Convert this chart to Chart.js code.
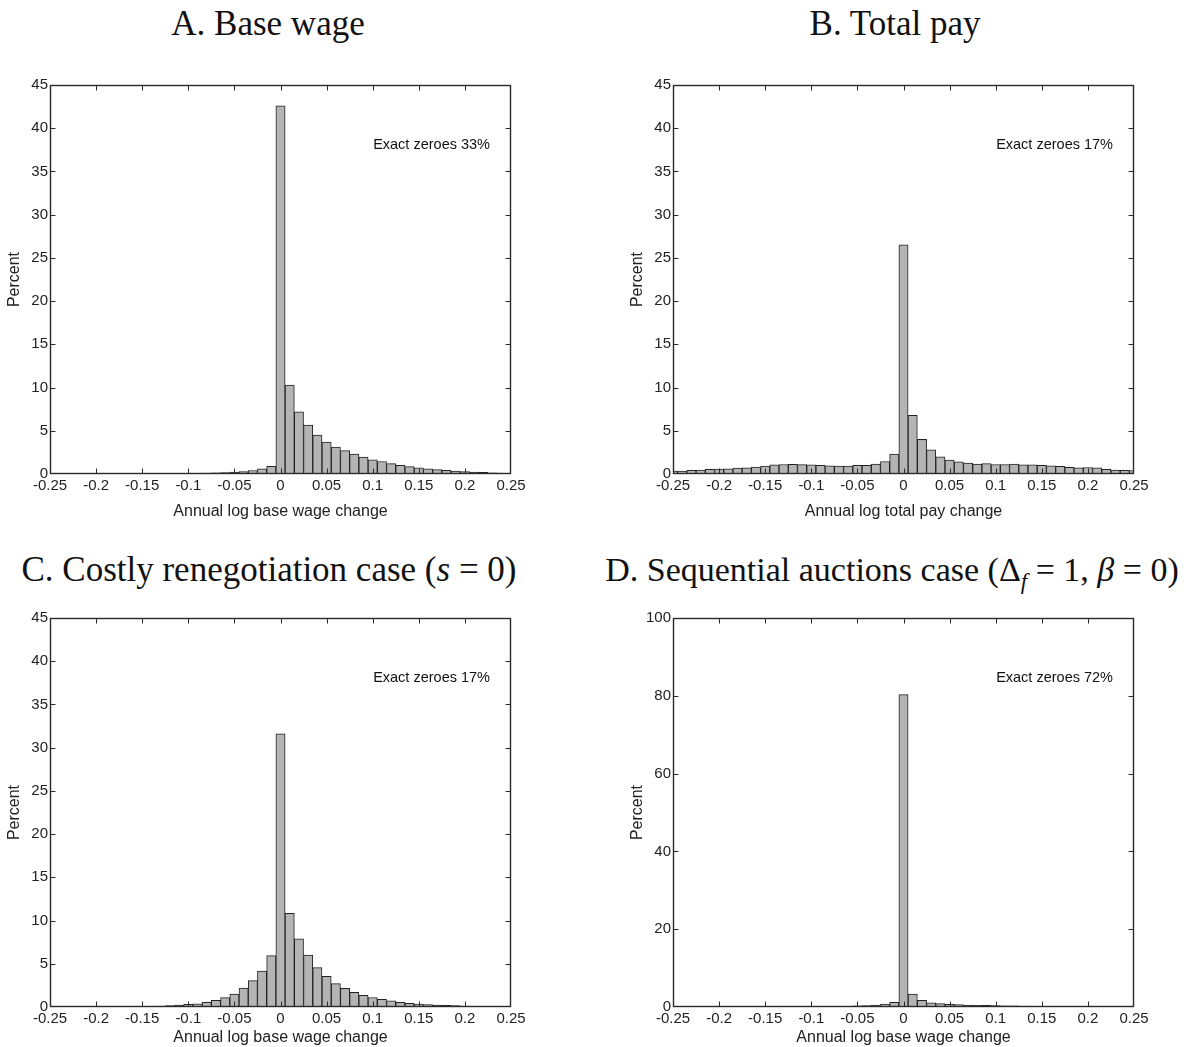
<!DOCTYPE html>
<html>
<head>
<meta charset="utf-8">
<script src="https://cdn.jsdelivr.net/npm/chart.js@4"></script>
<style>
  body { margin: 0; background: #fff; width: 1189px; height: 1047px; overflow: hidden; position: relative; }
  canvas { position: absolute; }
  .ttl { position: absolute; width: 640px; text-align: center; white-space: nowrap;
         font-family: "Liberation Serif", "DejaVu Serif", serif; font-size: 35px; line-height: 40px; color: #111; }
</style>
</head>
<body>
<div class="ttl" style="left:-52px; top:4px;">A. Base wage</div>
<div class="ttl" style="left:575px; top:4px;">B. Total pay</div>
<div class="ttl" style="left:-51px; top:550px;">C. Costly renegotiation case (<i>s</i> = 0)</div>
<div class="ttl" style="left:572px; top:550px; font-size:34px;">D. Sequential auctions case (Δ<sub style="font-size:23px;"><i>f</i></sub> = 1, <i>β</i> = 0)</div>

<canvas id="chartA" width="560" height="451" style="left:0; top:70px;"></canvas>
<canvas id="chartB" width="560" height="451" style="left:623px; top:70px;"></canvas>
<canvas id="chartC" width="560" height="444" style="left:0; top:603px;"></canvas>
<canvas id="chartD" width="560" height="444" style="left:623px; top:603px;"></canvas>

<script>
// bin centres (annual log change)
var bins = [-0.25, -0.24, -0.23, -0.22, -0.21, -0.2, -0.19, -0.18, -0.17, -0.16,
	-0.15, -0.14, -0.13, -0.12, -0.11, -0.1, -0.09, -0.08, -0.07, -0.06,
	-0.05, -0.04, -0.03, -0.02, -0.01, 0, 0.01, 0.02, 0.03, 0.04,
	0.05, 0.06, 0.07, 0.08, 0.09, 0.1, 0.11, 0.12, 0.13, 0.14,
	0.15, 0.16, 0.17, 0.18, 0.19, 0.2, 0.21, 0.22, 0.23, 0.24, 0.25];

// percent of observations in each bin
var baseWage = [0.01, 0.01, 0.01, 0.01, 0.01, 0.01, 0.01, 0.02, 0.02, 0.02,
	0.02, 0.03, 0.03, 0.04, 0.05, 0.07, 0.08, 0.1, 0.13, 0.17,
	0.22, 0.28, 0.4, 0.6, 0.9, 42.6, 10.3, 7.2, 5.65, 4.5,
	3.7, 3.1, 2.7, 2.3, 1.95, 1.65, 1.45, 1.2, 1.0, 0.85,
	0.7, 0.6, 0.5, 0.42, 0.35, 0.28, 0.23, 0.18, 0.14, 0.1, 0.08];

var totalPay = [0.35, 0.35, 0.42, 0.45, 0.55, 0.57, 0.6, 0.68, 0.72, 0.8,
	0.92, 1.05, 1.1, 1.12, 1.08, 1.05, 1.0, 0.95, 0.92, 0.92,
	1.0, 1.0, 1.15, 1.45, 2.3, 26.5, 6.8, 4.0, 2.8, 2.0,
	1.6, 1.4, 1.25, 1.15, 1.2, 1.1, 1.1, 1.15, 1.05, 1.05,
	1.0, 0.95, 0.9, 0.78, 0.72, 0.75, 0.7, 0.55, 0.45, 0.42, 0.4];

var costlyReneg = [0.01, 0.01, 0.01, 0.01, 0.01, 0.01, 0.02, 0.03, 0.04, 0.05,
	0.07, 0.09, 0.12, 0.17, 0.22, 0.3, 0.38, 0.55, 0.77, 1.08,
	1.5, 2.2, 3.05, 4.15, 5.95, 31.6, 10.85, 7.9, 6.0, 4.55,
	3.55, 2.7, 2.15, 1.7, 1.35, 1.1, 0.9, 0.7, 0.55, 0.42,
	0.35, 0.27, 0.22, 0.18, 0.15, 0.12, 0.09, 0.07, 0.05, 0.04, 0.03];

var seqAuctions = [0.01, 0.01, 0.01, 0.01, 0.01, 0.01, 0.01, 0.01, 0.02, 0.02,
	0.02, 0.03, 0.03, 0.04, 0.05, 0.06, 0.08, 0.1, 0.15, 0.2,
	0.28, 0.35, 0.5, 0.75, 1.2, 80.3, 3.3, 1.7, 1.1, 0.85,
	0.7, 0.6, 0.5, 0.45, 0.4, 0.35, 0.3, 0.27, 0.23, 0.2,
	0.18, 0.15, 0.12, 0.1, 0.08, 0.06, 0.05, 0.04, 0.03, 0.02, 0.02];

var xTicks = [-0.25, -0.2, -0.15, -0.1, -0.05, 0, 0.05, 0.1, 0.15, 0.2, 0.25];

Chart.defaults.font.family = '"Liberation Sans", Arial, sans-serif';
Chart.defaults.font.size = 15;
Chart.defaults.color = '#222';

// box around the plot, inward ticks on all four sides, and the note
var framePlugin = {
	id: 'frame',
	afterDatasetsDraw: function(chart, args, opts) {
		var ctx = chart.ctx, a = chart.chartArea, sx = chart.scales.x, sy = chart.scales.y;
		var l = Math.round(a.left) + 0.5, r = Math.round(a.right) - 0.5;
		var t = Math.round(a.top) + 0.5, b = Math.round(a.bottom) - 0.5;
		ctx.save();
		ctx.strokeStyle = '#2a2a2a';
		ctx.lineWidth = 1;
		ctx.beginPath();
		sx.ticks.forEach(function(tk) {
			var px = Math.round(sx.getPixelForValue(tk.value)) + 0.5;
			if (px <= l + 1 || px >= r - 1) return;
			ctx.moveTo(px, b); ctx.lineTo(px, b - 5);
			ctx.moveTo(px, t); ctx.lineTo(px, t + 5);
		});
		sy.ticks.forEach(function(tk) {
			var py = Math.round(sy.getPixelForValue(tk.value)) + 0.5;
			if (py <= t + 1 || py >= b - 1) return;
			ctx.moveTo(l, py); ctx.lineTo(l + 5, py);
			ctx.moveTo(r, py); ctx.lineTo(r - 5, py);
		});
		ctx.stroke();
		ctx.lineWidth = 1.4;
		ctx.strokeRect(l, t, r - l, b - t);
		if (opts.text) {
			ctx.font = '14.5px "Liberation Sans", Arial, sans-serif';
			ctx.fillStyle = '#111';
			ctx.textAlign = 'right';
			ctx.textBaseline = 'middle';
			ctx.fillText(opts.text, a.right - 21, a.top + 60);
		}
		ctx.restore();
	}
};

function makeHist(id, values, yMax, yStep, xTitle, note, xAxisHeight) {
	var pts = bins.map(function(b, i) { return { x: b, y: values[i] }; });
	new Chart(document.getElementById(id).getContext('2d'), {
		type: 'bar',
		data: {
			datasets: [{
				data: pts,
				backgroundColor: '#b4b4b4',
				borderColor: '#222',
				borderWidth: 1,
				barPercentage: 1,
				categoryPercentage: 1
			}]
		},
		options: {
			responsive: false,
			animation: false,
			devicePixelRatio: 1,
			layout: { padding: { top: 15, right: 49, left: 0, bottom: 0 } },
			plugins: {
				legend: { display: false },
				tooltip: { enabled: false },
				frame: { text: note }
			},
			scales: {
				x: {
					type: 'linear',
					offset: false,
					min: -0.25,
					max: 0.25,
					afterBuildTicks: function(scale) {
						scale.ticks = xTicks.map(function(v) { return { value: v }; });
					},
					afterFit: function(scale) { scale.height = xAxisHeight; },
					grid: { display: false, drawTicks: false, offset: false },
					border: { display: false },
					ticks: {
						autoSkip: false,
						maxRotation: 0,
						padding: 3,
						callback: function(v) { return String(parseFloat(Number(v).toFixed(2))); }
					},
					title: { display: true, text: xTitle, font: { size: 16 }, padding: 0 }
				},
				y: {
					min: 0,
					max: yMax,
					afterFit: function(scale) { scale.width = 50; },
					grid: { display: false, drawTicks: false },
					border: { display: false },
					ticks: { stepSize: yStep, padding: 2 },
					title: { display: true, text: 'Percent', font: { size: 16 }, padding: { top: 5, bottom: 0 } }
				}
			}
		},
		plugins: [framePlugin]
	});
}

makeHist('chartA', baseWage, 45, 5, 'Annual log base wage change', 'Exact zeroes 33%', 47);
makeHist('chartB', totalPay, 45, 5, 'Annual log total pay change', 'Exact zeroes 17%', 47);
makeHist('chartC', costlyReneg, 45, 5, 'Annual log base wage change', 'Exact zeroes 17%', 40);
makeHist('chartD', seqAuctions, 100, 20, 'Annual log base wage change', 'Exact zeroes 72%', 40);
</script>
</body>
</html>
